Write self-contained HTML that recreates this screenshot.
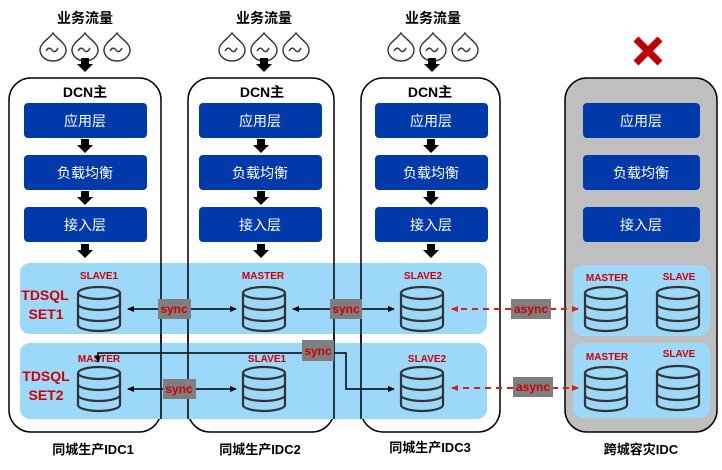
<!DOCTYPE html>
<html><head><meta charset="utf-8"><style>
html,body{margin:0;padding:0;background:#fff;}
svg{display:block;}
text{font-family:"Liberation Sans","Noto Sans CJK SC",sans-serif;}
</style></head><body>
<svg width="722" height="470" viewBox="0 0 722 470" xmlns="http://www.w3.org/2000/svg">
<defs>
<g id="db" fill="none" stroke="#333" stroke-width="2.2">
  <ellipse cx="22" cy="6" rx="21" ry="6" fill="none"/>
  <path d="M1 6 V38 A21 6 0 0 0 43 38 V6"/>
  <path d="M1 17 A21 6 0 0 0 43 17"/>
  <path d="M1 28 A21 6 0 0 0 43 28"/>
</g>
<g id="drop" fill="#fff" stroke="#333" stroke-width="1.4">
  <path d="M0 -13 C4 -7 13 -3 13 4 A13 11 0 0 1 -13 4 C-13 -3 -4 -7 0 -13 Z"/>
  <path d="M-7 5 Q-4 0 -1 4 Q2 8 5 2" fill="none"/>
</g>
<g id="darr" fill="#000"><rect x="-4" y="0" width="8" height="7"/><path d="M-8 6 H8 L0 14 Z"/></g>
<marker id="ah" markerWidth="8" markerHeight="8" refX="6" refY="3" orient="auto" markerUnits="userSpaceOnUse"><path d="M0 0 L7 3 L0 6 Z" fill="#000"/></marker>
<marker id="ahr" markerWidth="8" markerHeight="8" refX="6" refY="3" orient="auto" markerUnits="userSpaceOnUse"><path d="M0 0 L7 3 L0 6 Z" fill="#d42020"/></marker>
</defs>

<!-- top labels -->
<g font-size="14" font-weight="bold" text-anchor="middle" fill="#000">
<text x="85" y="23">业务流量</text><text x="264" y="23">业务流量</text><text x="433" y="23">业务流量</text>
</g>
<g>
<use href="#drop" x="53" y="46"/><use href="#drop" x="85" y="46"/><use href="#drop" x="117" y="46"/>
<use href="#drop" x="232" y="46"/><use href="#drop" x="264" y="46"/><use href="#drop" x="296" y="46"/>
<use href="#drop" x="401" y="46"/><use href="#drop" x="433" y="46"/><use href="#drop" x="465" y="46"/>
</g>
<use href="#darr" x="85" y="58"/><use href="#darr" x="264" y="58"/><use href="#darr" x="432" y="58"/>
<!-- red X -->
<g stroke="#c00000" stroke-width="7"><line x1="636" y1="39" x2="660" y2="63"/><line x1="660" y1="39" x2="636" y2="63"/></g>

<!-- IDC boxes -->
<rect x="9" y="78" width="152" height="354" rx="22" fill="#fff" stroke="#000" stroke-width="1.5"/>
<rect x="188" y="78" width="146" height="354" rx="22" fill="none" stroke="#000" stroke-width="1.5"/>
<rect x="361" y="78" width="139" height="354" rx="22" fill="none" stroke="#000" stroke-width="1.5"/>
<rect x="565" y="78" width="152" height="354" rx="22" fill="#c0bfc0" stroke="#000" stroke-width="1.5"/>

<g font-size="14" font-weight="bold" text-anchor="middle">
<text x="85" y="97">DCN主</text><text x="262" y="97">DCN主</text><text x="430" y="97">DCN主</text>
</g>

<!-- layers -->
<g fill="#0039aa">
<rect x="24" y="103" width="123" height="35" rx="4"/><rect x="24" y="155" width="123" height="35" rx="4"/><rect x="24" y="207" width="123" height="35" rx="4"/>
<rect x="199" y="103" width="123" height="35" rx="4"/><rect x="199" y="155" width="123" height="35" rx="4"/><rect x="199" y="207" width="123" height="35" rx="4"/>
<rect x="375" y="103" width="113" height="35" rx="4"/><rect x="375" y="155" width="113" height="35" rx="4"/><rect x="375" y="207" width="113" height="35" rx="4"/>
<rect x="583" y="103" width="117" height="35" rx="4"/><rect x="583" y="155" width="117" height="35" rx="4"/><rect x="583" y="207" width="117" height="35" rx="4"/>
</g>
<g font-size="14" fill="#fff" text-anchor="middle">
<text x="85" y="126">应用层</text><text x="85" y="178">负载均衡</text><text x="85" y="230">接入层</text>
<text x="260" y="126">应用层</text><text x="260" y="178">负载均衡</text><text x="260" y="230">接入层</text>
<text x="431" y="126">应用层</text><text x="431" y="178">负载均衡</text><text x="431" y="230">接入层</text>
<text x="641" y="126">应用层</text><text x="641" y="178">负载均衡</text><text x="641" y="230">接入层</text>
</g>
<g>
<use href="#darr" x="85" y="139"/><use href="#darr" x="85" y="191"/><use href="#darr" x="85" y="244"/>
<use href="#darr" x="261" y="139"/><use href="#darr" x="261" y="191"/><use href="#darr" x="261" y="244"/>
<use href="#darr" x="431" y="139"/><use href="#darr" x="431" y="191"/><use href="#darr" x="431" y="244"/>
</g>

<!-- bands -->
<rect x="20" y="263" width="467" height="71" rx="10" fill="#9cd8fa"/>
<rect x="20" y="343" width="467" height="76" rx="10" fill="#9cd8fa"/>
<rect x="573" y="265" width="137" height="71" rx="10" fill="#9cd8fa"/>
<rect x="573" y="343" width="137" height="75" rx="10" fill="#9cd8fa"/>
<!-- redraw idc borders over bands -->
<g fill="none" stroke="#000" stroke-width="1.5">
<line x1="161" y1="263" x2="161" y2="419"/><line x1="188" y1="263" x2="188" y2="419"/>
<line x1="334" y1="263" x2="334" y2="419"/><line x1="361" y1="263" x2="361" y2="419"/>
</g>

<!-- db -->
<use href="#db" x="77" y="287"/><use href="#db" x="242" y="287"/><use href="#db" x="400" y="287"/>
<use href="#db" x="77" y="367"/><use href="#db" x="242" y="367"/><use href="#db" x="400" y="367"/>
<use href="#db" x="584" y="287"/><use href="#db" x="656" y="287"/>
<use href="#db" x="584" y="367"/><use href="#db" x="656" y="366"/>

<g font-size="10" font-weight="bold" fill="#cc0000" text-anchor="middle">
<text x="99" y="279">SLAVE1</text><text x="263" y="279">MASTER</text><text x="423" y="279">SLAVE2</text>
<text x="99" y="362">MASTER</text><text x="267" y="362">SLAVE1</text><text x="427" y="362">SLAVE2</text>
<text x="607" y="281">MASTER</text><text x="679" y="280">SLAVE</text>
<text x="607" y="360">MASTER</text><text x="679" y="357">SLAVE</text>
</g>
<g font-size="14" font-weight="bold" fill="#cc0000" text-anchor="middle">
<text x="45" y="300">TDSQL</text><text x="46" y="319">SET1</text>
<text x="46" y="381">TDSQL</text><text x="46" y="400">SET2</text>
</g>

<!-- connectors -->
<g stroke="#000" stroke-width="1.5" fill="none">
<line x1="160" y1="309" x2="128" y2="309" marker-end="url(#ah)"/>
<line x1="190" y1="309" x2="236" y2="309" marker-end="url(#ah)"/>
<line x1="331" y1="309" x2="293" y2="309" marker-end="url(#ah)"/>
<line x1="362" y1="309" x2="394" y2="309" marker-end="url(#ah)"/>
<polyline points="302,353 98,353 98,362" marker-end="url(#ah)"/>
<polyline points="333,353 346,353 346,389 394,389" marker-end="url(#ah)"/>
<line x1="163" y1="389" x2="128" y2="389" marker-end="url(#ah)"/>
<line x1="195" y1="389" x2="236" y2="389" marker-end="url(#ah)"/>
</g>
<g stroke="#d42020" stroke-width="2" stroke-dasharray="6,5" fill="none">
<line x1="511" y1="309" x2="452" y2="309" marker-end="url(#ahr)"/>
<line x1="550" y1="309" x2="578" y2="309" marker-end="url(#ahr)"/>
<line x1="513" y1="388" x2="452" y2="388" marker-end="url(#ahr)"/>
<line x1="552" y1="388" x2="578" y2="388" marker-end="url(#ahr)"/>
</g>
<g fill="#7f7f7f">
<rect x="158" y="299" width="33" height="20"/><rect x="330" y="299" width="32" height="20"/>
<rect x="302" y="340" width="32" height="21"/><rect x="163" y="379" width="33" height="20"/>
<rect x="511" y="299" width="40" height="20"/><rect x="513" y="377" width="40" height="20"/>
</g>
<g font-size="12" font-weight="bold" fill="#cc0000" text-anchor="middle">
<text x="174" y="313">sync</text><text x="346" y="313">sync</text>
<text x="318" y="355">sync</text><text x="179" y="393">sync</text>
<text x="531" y="313">async</text><text x="533" y="391">async</text>
</g>

<g font-size="13" font-weight="bold" text-anchor="middle">
<text x="93" y="454">同城生产IDC1</text><text x="260" y="454">同城生产IDC2</text>
<text x="430" y="452">同城生产IDC3</text><text x="641" y="454">跨城容灾IDC</text>
</g>
</svg>
</body></html>
